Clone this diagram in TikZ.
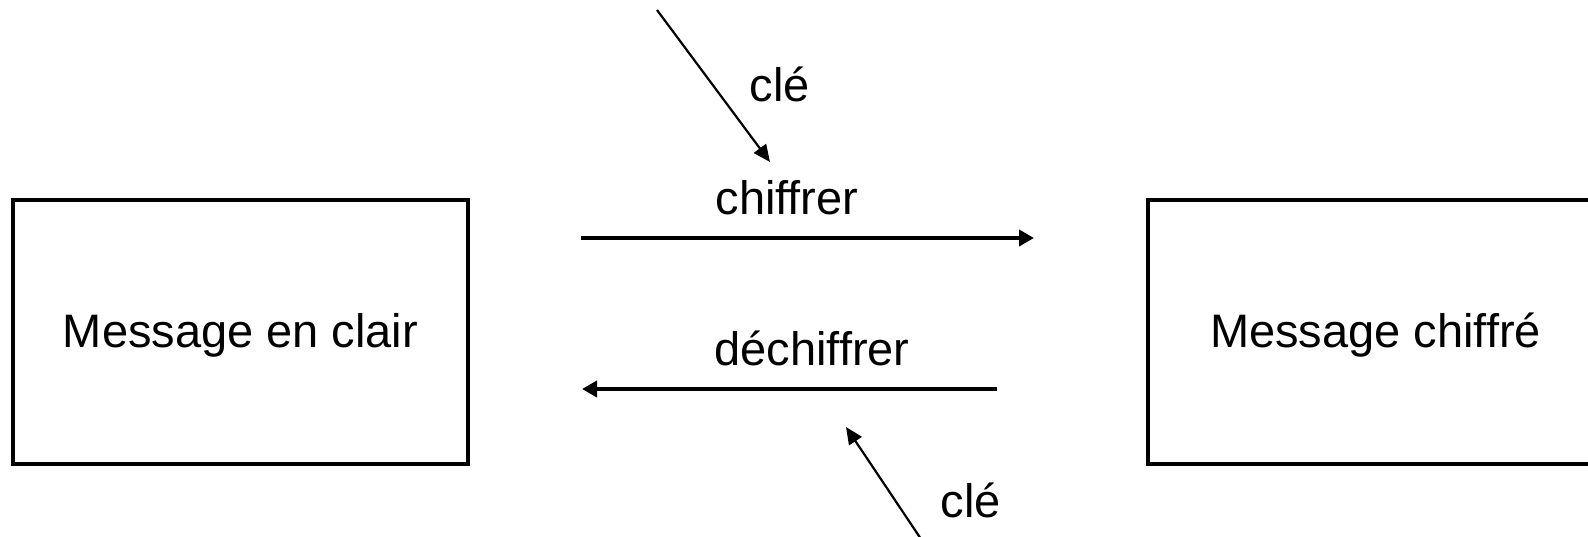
\documentclass[tikz,border=0pt]{standalone}
\usepackage{fontspec}
\setmainfont{Liberation Sans}
\usetikzlibrary{arrows.meta}
\begin{document}
\begin{tikzpicture}[x=1pt,y=-1pt,
  msgbox/.style={draw,line width=3.5pt,minimum width=455pt,minimum height=264pt,inner sep=0pt,
     text height=36pt,text depth=4pt,font=\fontsize{47}{56}\selectfont},
  lbl/.style={anchor=base,inner sep=0pt,font=\fontsize{47}{56}\selectfont},
  thick arrow/.style={line width=4pt,-{Triangle[length=15pt,width=16pt]}},
  thin arrow/.style={line width=2.2pt,-{Triangle[length=17pt,width=15pt]}}]
\useasboundingbox (0,0) rectangle (1588,537);
\node[msgbox] (clair) at (240.5,332) {Message en clair};
\node[msgbox] (chiffre) at (1375.5,332) {Message chiffré};
\coordinate (a1s) at (581,238);
\coordinate (a1e) at (1034,238);
\coordinate (a2s) at (997,389);
\coordinate (a2e) at (582,389);
\coordinate (k1s) at (657,10);
\coordinate (k1e) at (770,162);
\coordinate (k2s) at (925,545);
\coordinate (k2e) at (846,427);
\draw[thick arrow] (a1s) -- (a1e);
\draw[thick arrow] (a2s) -- (a2e);
\draw[thin arrow] (k1s) -- (k1e);
\draw[thin arrow] (k2s) -- (k2e);
\node[lbl] (cle1) at (780,102) {clé};
\node[lbl] (chif) at (787,215) {chiffrer};
\node[lbl] (dechif) at (812,365) {déchiffrer};
\node[lbl] (cle2) at (971,517) {clé};
\end{tikzpicture}
\end{document}
